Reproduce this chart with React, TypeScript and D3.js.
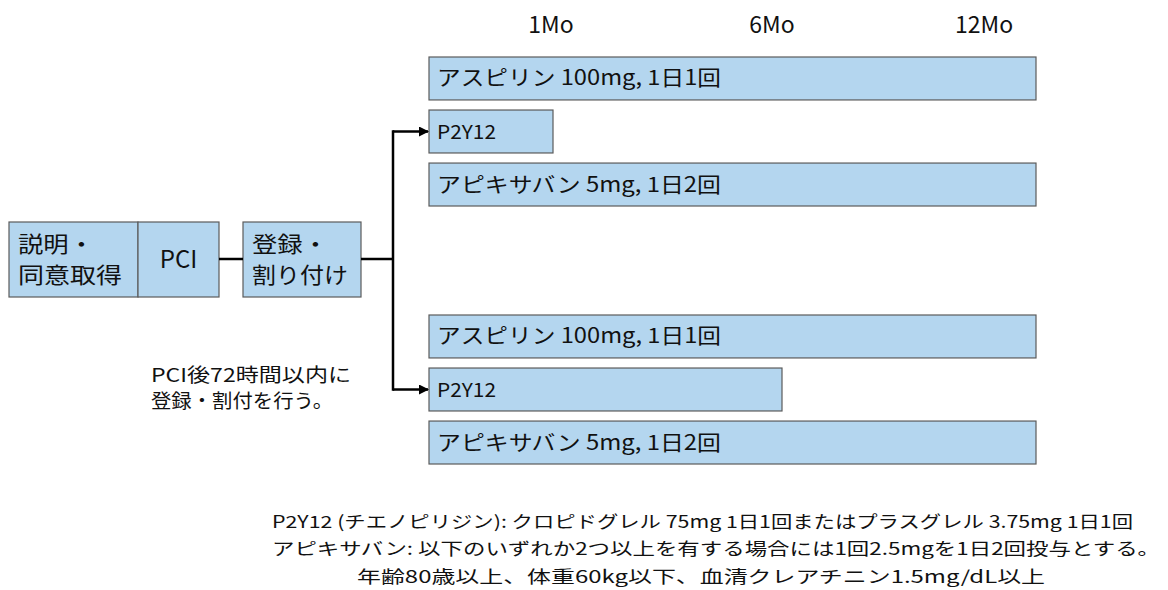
import * as d3 from "d3";

// timeline axis (months) and labels
const monthTicks = [1, 6, 12];
const tickLabels = ["1Mo", "6Mo", "12Mo"];

// treatment rows per randomized group
const drugLabels = ["アスピリン 100mg, 1日1回", "P2Y12", "アピキサバン 5mg, 1日2回"];
const group1Months = [12, 1, 12];
const group2Months = [12, 6, 12];

// flow boxes on the left
const flowSteps = [
  { id: "consent", lines: ["説明・", "同意取得"] },
  { id: "pci", lines: ["PCI"] },
  { id: "random", lines: ["登録・", "割り付け"] },
];

const sideNote = ["PCI後72時間以内に", "登録・割付を行う。"];
const footNotes = [
  "P2Y12 (チエノピリジン): クロピドグレル 75mg 1日1回またはプラスグレル 3.75mg 1日1回",
  "アピキサバン: 以下のいずれか2つ以上を有する場合には1回2.5mgを1日2回投与とする。",
  "年齢80歳以上、体重60kg以下、血清クレアチニン1.5mg/dL以上",
];

const W = 1168;
const H = 590;
const FILL = "#b4d6ef";
const EDGE = "#5b5b5b";
const FONT = "'Noto Sans CJK JP', 'Noto Sans', sans-serif";

export default function App() {
  const x = d3.scaleLinear().domain([0, 1, 6, 12]).range([429, 553, 782, 1036]);
  const groupTops = [57, 315];
  const yBands = groupTops.map((t) =>
    d3.scaleBand<string>().domain(drugLabels).range([t, t + 149]).paddingInner(0.19)
  );
  const groups = [group1Months, group2Months];

  // label nudges so the header text sits like the original
  const labelX = (m: number, i: number) => (i === 2 ? x(m) - 52 : x(m) - (i === 1 ? 10 : 2));

  const flowX = d3.scaleOrdinal<string, [number, number]>()
    .domain(flowSteps.map((s) => s.id))
    .range([[9, 138], [138, 219], [243, 361]]);
  const flowTop = 222;
  const flowBottom = 297;
  const midY = 259;
  const trunkX = 393;

  const p2y = drugLabels[1];
  const branchYs = yBands.map((b) => (b(p2y) ?? 0) + b.bandwidth() / 2);

  // widths of the two-line box captions, as in the picture
  const captionWidth = (ln: string) => (ln.endsWith("・") ? 76 : ln === "同意取得" ? 104 : 96);

  return (
    <svg
      width={W}
      height={H}
      style={{ position: "absolute", left: 0, top: 0, background: "#fff" }}
      fontFamily={FONT}
    >
      <defs>
        <marker id="ah" viewBox="0 0 10 10" refX="9" refY="5" markerWidth="4" markerHeight="4" orient="auto">
          <path d="M0,0 L10,5 L0,10 z" fill="#000" />
        </marker>
      </defs>

      {/* header ticks */}
      {monthTicks.map((m, i) => (
        <text key={m} x={labelX(m, i)} y={33} fontSize={23} textAnchor="middle" fill="#111">
          {tickLabels[i]}
        </text>
      ))}

      {/* treatment bars */}
      {groups.map((months, gi) =>
        months.map((m, ri) => {
          const yb = yBands[gi];
          const y0 = yb(drugLabels[ri]) ?? 0;
          const isP2 = drugLabels[ri] === p2y;
          return (
            <g key={`${gi}-${ri}`}>
              <rect
                x={x(0)}
                y={y0}
                width={x(m) - x(0)}
                height={yb.bandwidth()}
                fill={FILL}
                stroke={EDGE}
                strokeWidth={1.2}
              />
              <text
                x={x(0) + 8}
                y={y0 + yb.bandwidth() / 2 + 7}
                fontSize={isP2 ? 19 : 21}
                fill="#111"
                textLength={isP2 ? 59 : 284}
                lengthAdjust="spacingAndGlyphs"
              >
                {drugLabels[ri]}
              </text>
            </g>
          );
        })
      )}

      {/* flow boxes */}
      {flowSteps.map((s) => {
        const [x0, x1] = flowX(s.id);
        const single = s.lines.length === 1;
        return (
          <g key={s.id}>
            <rect
              x={x0}
              y={flowTop}
              width={x1 - x0}
              height={flowBottom - flowTop}
              fill={FILL}
              stroke={EDGE}
              strokeWidth={1.2}
            />
            {s.lines.map((ln, li) =>
              single ? (
                <text key={li} x={(x0 + x1) / 2} y={midY + 9} fontSize={24} textAnchor="middle" fill="#111">
                  {ln}
                </text>
              ) : (
                <text
                  key={li}
                  x={x0 + 9}
                  y={252 + li * 31}
                  fontSize={22}
                  fill="#111"
                  textLength={captionWidth(ln)}
                  lengthAdjust="spacingAndGlyphs"
                >
                  {ln}
                </text>
              )
            )}
          </g>
        );
      })}

      {/* connectors */}
      <line x1={flowX("pci")[1]} x2={flowX("random")[0]} y1={midY} y2={midY} stroke="#000" strokeWidth={2.5} />
      <line x1={flowX("random")[1]} x2={trunkX} y1={midY} y2={midY} stroke="#000" strokeWidth={2.5} />
      <line x1={trunkX} x2={trunkX} y1={branchYs[0] - 1.2} y2={branchYs[1] + 1.2} stroke="#000" strokeWidth={2.5} />
      {branchYs.map((by, i) => (
        <line
          key={i}
          x1={trunkX}
          x2={x(0) - 1}
          y1={by}
          y2={by}
          stroke="#000"
          strokeWidth={2.5}
          markerEnd="url(#ah)"
        />
      ))}

      {/* side note */}
      {sideNote.map((ln, i) => (
        <text
          key={i}
          x={151}
          y={382 + i * 26}
          fontSize={19}
          fill="#111"
          textLength={i === 0 ? 200 : 182}
          lengthAdjust="spacingAndGlyphs"
        >
          {ln}
        </text>
      ))}

      {/* footnotes */}
      <text x={272} y={528} fontSize={17} fill="#111" textLength={861} lengthAdjust="spacingAndGlyphs">
        {footNotes[0]}
      </text>
      <text x={272} y={555} fontSize={17} fill="#111" textLength={888} lengthAdjust="spacingAndGlyphs">
        {footNotes[1]}
      </text>
      <text x={357} y={583} fontSize={17} fill="#111" textLength={688} lengthAdjust="spacingAndGlyphs">
        {footNotes[2]}
      </text>
    </svg>
  );
}
